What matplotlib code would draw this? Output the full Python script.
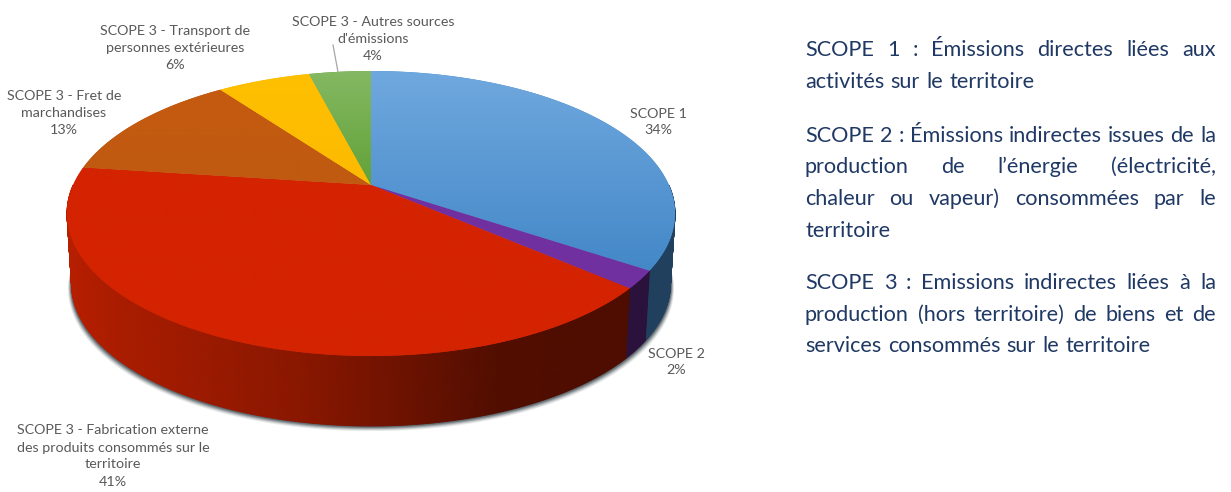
import numpy as np
import matplotlib
matplotlib.use("Agg")
import matplotlib.pyplot as plt
from matplotlib.patches import Polygon

# chart data, clockwise from 12 o'clock
categories = ["SCOPE 1", "SCOPE 2",
              "SCOPE 3 - Fabrication externe\ndes produits consommés sur le\nterritoire",
              "SCOPE 3 - Fret de\nmarchandises",
              "SCOPE 3 - Transport de\npersonnes extérieures",
              "SCOPE 3 - Autres sources\nd'émissions"]
values = [34.4, 2.0, 40.7, 12.9, 6.0, 4.0]
top_colors = ["#6FA8DE", "#7030A0", "#D42300", "#C55A11", "#FFC000", "#84B862"]
low_colors = ["#4488C8", "#7030A0", "#D42300", "#BF5A10", "#FDBA00", "#62A238"]
side_boost = [1.3, 1.05, 1.0, 1.0, 1.0, 1.0]
label_pos = [(658, 122), (676, 362), (113, 456), (64, 113), (175, 48), (373, 39)]

paragraphs = [
    ["SCOPE 1 : Émissions directes liées aux", "activités sur le territoire"],
    ["SCOPE 2 : Émissions indirectes issues de la",
     "production de l’énergie (électricité,",
     "chaleur ou vapeur) consommées par le",
     "territoire"],
    ["SCOPE 3 : Emissions indirectes liées à la",
     "production (hors territoire) de biens et de",
     "services consommés sur le territoire"],
]
para_base = [[56, 88], [142, 173, 205, 237], [289, 321, 352]]

# projected circle: the apex sits above the centre of the ellipse
apex_x, apex_y = 371, 185
rad_x, rad_y, persp = 297.9, 136.8, 0.2
depth = 70


def rim(theta, shrink=1.0, drop=0):
    u, v = np.sin(theta), np.cos(theta)
    w = 1 + persp * v
    return apex_x + shrink * rad_x * u / w, apex_y - rad_y * v / w + drop


def side_shade(x):
    return np.interp(x, [67, 100, 300, 400, 500, 675], [0.86, 0.82, 0.65, 0.52, 0.38, 0.36])


fig = plt.figure(figsize=(12.31, 4.92), dpi=100)
ax = fig.add_axes([0, 0, 1, 1])
ax.axis("off")

edges = np.radians(np.concatenate([[0], np.cumsum(values)]) * 3.6)

# soft shadow under the bottom rim
tt = np.linspace(np.radians(96), np.radians(264), 200)
for off, alpha in [(5, 0.12), (4, 0.18), (3, 0.3), (2, 0.45), (1, 0.5)]:
    sx, sy = rim(tt, 0.985, depth + off)
    sx = sx + np.where(sx < apex_x, -off * 0.7, off * 0.7)
    ax.fill(sx, sy, color="#404A50", alpha=alpha, lw=0)

# side wall, short quads so the shade follows x
for i in range(len(values)):
    start, end = max(edges[i], np.radians(90)), min(edges[i + 1], np.radians(270))
    if end <= start:
        continue
    steps = np.linspace(start, end, int((end - start) * 180) + 2)
    base = np.array(matplotlib.colors.to_rgb(low_colors[i]))
    for a, b in zip(steps[:-1], steps[1:]):
        xa, ya = rim(a)
        xb, yb = rim(b)
        xc, yc = rim(b, 0.985, depth)
        xd, yd = rim(a, 0.985, depth)
        col = np.clip(base * side_shade((xa + xb) / 2) * side_boost[i], 0, 1)
        ax.fill([xa, xb, xc, xd], [ya, yb, yc, yd], color=col, lw=0.6)

# top face, each slice a vertical gradient clipped to its outline
for i in range(len(values)):
    tt = np.linspace(edges[i], edges[i + 1], 120)
    xs, ys = rim(tt)
    pts = np.column_stack([np.r_[apex_x, xs], np.r_[apex_y, ys]])
    poly = Polygon(pts, closed=True, facecolor=low_colors[i], edgecolor="none", zorder=3)
    ax.add_patch(poly)
    c0 = np.array(matplotlib.colors.to_rgb(top_colors[i]))
    c1 = np.array(matplotlib.colors.to_rgb(low_colors[i]))
    ramp = np.linspace(0, 1, 64)[:, None, None]
    grad = c0[None, None, :] * (1 - ramp) + c1[None, None, :] * ramp
    im = ax.imshow(grad, extent=[pts[:, 0].min(), pts[:, 0].max(), pts[:, 1].max(), pts[:, 1].min()],
                   aspect="auto", zorder=4, interpolation="bilinear")
    im.set_clip_path(poly)

ax.set_xlim(0, 1231)
ax.set_ylim(492, 0)

# slice labels
for name, val, (lx, ly) in zip(categories, values, label_pos):
    ax.text(lx, ly, f"{name}\n{val:.0f}%", ha="center", va="center", fontsize=10.3,
            family="Lato", color="#595959", linespacing=1.5, zorder=6)
ax.plot([333, 338], [45, 72], color="#A6A6A6", lw=0.9, zorder=5)

# explanation text on the right, justified by hand
left, right = 805, 1216
fig.canvas.draw()
rend = fig.canvas.get_renderer()
for para, ys in zip(paragraphs, para_base):
    for n, (line, y) in enumerate(zip(para, ys)):
        words = line.split(" ")
        items = [ax.text(0, y, w, ha="left", va="baseline", fontsize=15.6, family="Lato",
                         color="#1F3864", zorder=6) for w in words]
        widths = [t.get_window_extent(rend).width for t in items]
        if n == len(para) - 1:
            gap = 6.5
        else:
            gap = (right - left - sum(widths)) / (len(words) - 1)
        x = left
        for t, w in zip(items, widths):
            t.set_x(x)
            x += w + gap

fig.savefig("out.png", dpi=100, facecolor="white")
